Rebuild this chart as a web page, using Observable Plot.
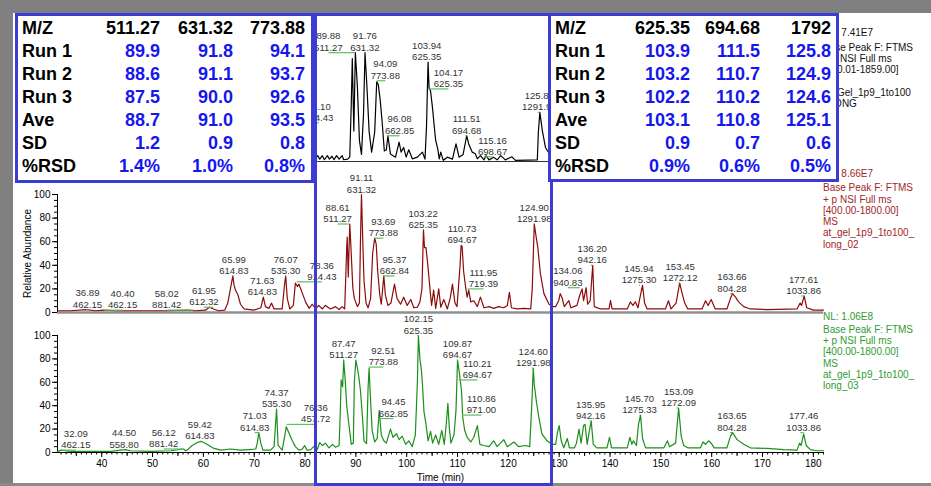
<!DOCTYPE html>
<html><head><meta charset="utf-8">
<script src="https://cdn.jsdelivr.net/npm/d3@7"></script>
<script src="https://cdn.jsdelivr.net/npm/@observablehq/plot@0.6"></script>
<style>
html,body{margin:0;padding:0;background:#fff;}
#wrap{position:relative;width:931px;height:486px;overflow:hidden;background:#fff;font-family:Arial,"Liberation Sans",sans-serif;}
.legend{position:absolute;left:823px;font-size:10px;line-height:11.3px;white-space:nowrap;}
.tbl{position:absolute;box-sizing:border-box;border:3px solid #3c3cd2;background:#fff;display:grid;font-weight:bold;font-size:18px;line-height:23px;padding-top:0.5px;padding-left:4px;}
.tbl .lab{color:#000;}
.tbl .h{color:#000;text-align:right;}
.tbl .v{color:#1616ee;text-align:right;}
</style></head>
<body><div id="wrap"></div>
<script>
// ---------------- data ----------------
const xDomain = [31.3, 182];

// top run (black) – only the part visible between the two tables
const blackTrace = [[82.1,3],[82.5,5],[82.9,2],[83.4,5],[83.8,1.5],[84.4,5],[84.8,2],[85.3,4.5],[85.7,1.5],[86.2,5],[86.7,2],[87.3,5],[87.6,1.5],[88.4,2],[88.8,4],[89.1,50],[89.3,88],[89.6,26],[89.9,93],[90.3,64],[90.7,18],[91.1,6],[91.5,40],[91.8,93],[92.2,62],[92.6,26],[93.1,8],[93.7,25],[94.1,68],[94.4,66],[94.8,52],[95.2,32],[95.6,9],[96.0,10],[96.3,22],[96.8,6.5],[97.8,3.7],[98.5,16.5],[98.9,8],[99.4,12],[99.9,3.7],[100.4,10],[101.1,2.3],[102.1,3.7],[103.1,8],[103.6,2],[103.9,30],[104.2,85],[104.4,63],[104.7,60],[105.1,45],[105.4,31],[105.7,18],[106.1,11],[106.4,2.3],[106.7,8],[107.2,1],[108.0,3.7],[109.0,2],[109.7,15],[110.3,3.7],[111.1,6],[111.8,22],[112.2,15],[112.9,8],[113.5,6.6],[113.9,2.3],[114.5,5],[115.2,1.4],[115.6,5],[116.2,1.4],[117.1,3.7],[117.8,1.4],[118.5,5],[119.4,1.4],[120.7,4],[121.4,0.9],[123.7,1.2],[125.7,1.4],[125.9,25],[126.2,42],[126.7,26],[127.3,12],[128.0,7],[128.6,5]];

// middle run (red)
const redTrace = [[31.3,1.5],[33.9,1.5],[36.9,2.5],[38.8,1.5],[40.4,2],[42.8,1.5],[47.7,1.5],[52.6,1.5],[56.9,2],[58.5,1.5],[60.4,2],[61.2,4.5],[62.0,3],[63.0,1.5],[64.2,2],[64.8,8],[65.4,22],[65.8,31],[66.0,24],[66.3,19],[66.8,15],[67.3,7],[68.0,3],[69.9,2],[71.3,4],[71.8,13],[72.2,5],[72.9,3.5],[73.4,8],[73.9,3],[75.5,3],[76.0,25],[76.2,31],[76.5,12],[77.0,3],[77.7,6],[78.1,25],[78.5,22],[78.8,24],[79.5,16],[80.1,9],[80.8,3.5],[81.4,7],[82.1,3],[82.7,6],[83.4,3],[84.0,6],[85.0,3],[86.0,5],[86.7,2.5],[87.3,5],[87.8,3],[88.2,55],[88.3,64],[88.5,30],[88.8,75],[89.0,58],[89.4,21],[89.7,12],[90.3,5],[90.7,8],[90.9,60],[91.1,100],[91.4,55],[91.6,27],[92.0,8],[92.4,4],[92.9,12],[93.3,50],[93.7,63],[94.0,58],[94.3,35],[94.7,15],[95.0,7],[95.5,31],[95.8,15],[96.3,6],[96.9,8],[97.6,24],[98.1,12],[98.8,7],[99.4,13],[100.1,6],[100.8,11],[101.4,4],[102.1,4.5],[102.6,9],[103.0,20],[103.3,70],[103.5,55],[103.8,55],[104.2,38],[104.6,19],[104.9,6],[105.3,19],[105.7,3.5],[106.3,20],[106.7,4.5],[107.3,11],[108.0,3],[108.6,13],[109.0,24],[109.5,8],[109.9,5],[110.5,40],[110.7,57],[110.9,56],[111.2,35],[111.6,21],[111.9,13],[112.2,19],[112.6,9],[113.2,10],[113.9,5],[114.5,13],[115.2,4],[116.2,5],[117.1,3.5],[118.1,5],[119.1,4],[119.8,6],[120.2,17],[120.6,4],[121.7,3],[123.0,3.5],[124.4,3],[124.7,20],[125.1,75],[125.4,66],[125.8,55],[126.3,33],[127.0,16],[128.0,7],[128.9,5],[129.3,5],[129.9,10],[130.2,16],[130.6,12],[131.0,5],[131.9,10],[132.3,4],[133.5,6],[134.0,14],[134.5,20],[134.8,10],[135.3,21],[135.6,7],[136.1,10],[136.6,40],[136.9,5],[138.1,3],[139.8,3],[140.1,10],[140.4,3],[143.4,3],[144.0,9],[144.5,6],[145.0,9],[145.5,4],[146.0,15],[146.4,23],[146.8,8],[147.3,3],[150.9,3],[151.5,10],[152.0,3],[153.0,8],[153.7,25],[154.2,16],[154.7,8],[155.3,3],[158.1,3],[158.8,10],[159.3,6],[159.9,11],[160.7,3],[163.0,3],[163.7,12],[164.1,16],[164.7,13],[165.3,9],[166.3,5],[167.6,3],[170.9,2.5],[176.8,3],[177.4,8],[177.7,6],[178.2,14],[178.7,4],[180.0,2],[182.0,2]];

// bottom run (green)
const greenTrace = [[31.3,1],[32.1,2],[33.9,1],[37.8,1],[41.8,1],[43.7,2],[44.7,2.5],[45.7,1.5],[49.6,1],[53.6,1.5],[56.1,3],[56.5,1.5],[56.8,2],[57.8,6],[58.8,8.5],[59.5,9.5],[60.1,8.5],[61.1,6],[62.1,3.5],[63.4,2],[65.4,3],[67.3,2],[69.0,2.5],[70.3,3],[70.6,8],[70.9,17],[71.3,8],[71.7,2],[73.2,2],[73.9,5],[74.4,37],[74.7,6],[75.5,2],[76.0,14],[76.3,22],[76.8,17],[77.5,10],[78.1,5],[78.8,2],[79.5,3],[79.9,6],[80.4,2],[81.1,2.5],[81.7,5],[82.4,2.5],[82.9,8.5],[83.4,6],[84.0,8],[84.7,4],[85.4,7],[86.0,4.5],[86.7,6],[86.9,30],[87.1,62],[87.4,56],[87.6,79],[87.9,62],[88.2,40],[88.6,25],[89.1,7],[89.5,8],[89.7,60],[90.0,79],[90.3,72],[90.6,64],[90.9,53],[91.3,30],[91.6,10],[92.1,7.5],[92.4,55],[92.6,72],[92.9,44],[93.2,19],[93.7,9],[94.2,12],[94.6,36],[95.0,15],[95.5,10],[96.0,8],[96.8,20],[97.3,13],[98.0,16],[98.5,11],[99.1,14],[99.8,7],[100.4,10],[101.1,5],[101.7,15],[102.1,60],[102.3,100],[102.6,80],[102.9,70],[103.1,58],[103.4,35],[103.8,24],[104.2,10],[104.7,18],[105.1,8],[105.7,15],[106.3,7],[106.9,19],[107.4,7],[107.8,25],[108.1,42],[108.4,20],[108.7,8],[109.3,15],[109.7,36],[110.0,79],[110.3,70],[110.5,63],[110.8,52],[111.0,31],[111.4,19],[111.9,13],[112.6,9],[113.2,13],[113.9,23],[114.4,7],[115.2,6],[116.2,5],[117.1,10],[117.8,5],[119.1,11],[119.8,5],[121.1,9],[122.0,5],[123.4,6],[124.2,5],[124.6,40],[124.9,72],[125.1,58],[125.5,44],[126.0,30],[126.6,16],[127.6,10],[128.6,7],[129.3,7],[129.7,18],[130.0,23],[130.4,10],[130.9,4],[131.6,12],[132.0,4],[133.0,4],[133.4,8],[133.9,20],[134.3,8],[134.8,23],[135.1,24],[135.5,7],[136.0,20],[136.3,27],[136.7,7],[137.4,4],[139.4,4],[139.9,13],[140.3,4],[143.4,4],[143.9,13],[144.3,7],[144.6,10],[145.2,6],[145.6,24],[146.0,32],[146.4,12],[147.0,4],[150.6,4],[151.3,10],[151.7,5],[152.9,8],[153.5,38],[154.0,14],[154.5,6],[155.3,4],[157.8,4],[158.3,9],[158.8,7],[159.4,10],[159.9,8],[160.5,4],[163.0,4],[163.7,14],[164.1,17],[165.0,11],[166.3,7],[167.6,4],[170.9,3.5],[174.2,2.5],[176.8,2],[177.3,8],[177.6,6],[178.1,16],[178.6,6],[179.4,2.5],[180.7,1.5],[182.0,1.5]];

// peak annotations: [retention time, m/z, annotated level (%), time where the label is centred]
const blackPeaks = [["81.10","914.43",33,82.7],["89.88","511.27",93,84.6],["91.76","631.32",93,91.76],["94.09","773.88",69,95.8],["96.08","662.85",22,98.6],["103.94","625.35",85,103.94],["104.17","625.35",62,108.2],["111.51","694.68",22,111.8],["115.16","698.67",4,116.9],["125.81","1291.98",42,126.1]];
const redPeaks = [["36.89","462.15",2.5,37.2],["40.40","462.15",2,44.1],["58.02","881.42",2,52.8],["61.95","612.32",4.5,60.1],["65.99","614.83",31,65.99],["71.63","614.83",13,71.6],["76.07","535.30",31,76.2],["78.36","914.43",26,83.3],["88.61","511.27",75,86.4],["91.11","631.32",100,91.11],["93.69","773.88",63,95.4],["95.37","662.84",31,97.6],["103.22","625.35",70,103.22],["110.73","694.67",57,110.9],["111.95","719.39",20,115.1],["124.90","1291.98",75,125.1],["134.06","940.83",21,131.7],["136.20","942.16",40,136.5],["145.94","1275.30",23,145.7],["153.45","1272.12",25,153.8],["163.66","804.28",16,164.0],["177.61","1033.86",14,178.1]];
const greenPeaks = [["32.09","462.15",2,34.9],["44.50","558.80",2.5,44.4],["56.12","881.42",3,52.2],["59.42","614.83",9.5,59.3],["71.03","614.83",17,70.1],["74.37","535.30",37,74.4],["76.36","457.72",24,82.1],["87.47","511.27",79,87.6],["92.51","773.88",73,95.4],["94.45","662.85",29,97.4],["102.15","625.35",100,102.3],["109.87","694.67",79,110.0],["110.21","694.67",62,113.9],["110.86","971.00",32,114.7],["124.60","1291.98",72,124.9],["135.95","942.16",27,136.2],["145.70","1275.33",32,145.8],["153.09","1272.09",38,153.5],["163.65","804.28",17,164.0],["177.46","1033.86",17,178.1]];

const yTicks = [0, 20, 40, 60, 80, 100];
const xTicks = [40, 50, 60, 70, 80, 90, 100, 110, 120, 130, 140, 150, 160, 170, 180];

const legendTop = ["NL: 7.41E7", "Base Peak F: FTMS", "+ p NSI Full ms", "[300.01-1859.00]", "MS", "at_Gel_1p9_1to100", "_LONG"];
const legendMid = ["NL: 8.66E7", "Base Peak F: FTMS", "+ p NSI Full ms", "[400.00-1800.00]", "MS", "at_gel_1p9_1to100_", "long_02"];
const legendBot = ["NL: 1.06E8", "Base Peak F: FTMS", "+ p NSI Full ms", "[400.00-1800.00]", "MS", "at_gel_1p9_1to100_", "long_03"];

// retention-time table
const rowLabels = ["M/Z", "Run 1", "Run 2", "Run 3", "Ave", "SD", "%RSD"];
const mzHeader = ["511.27", "631.32", "773.88", "625.35", "694.68", "1792"];
const run1 = [89.9, 91.8, 94.1, 103.9, 111.5, 125.8];
const run2 = [88.6, 91.1, 93.7, 103.2, 110.7, 124.9];
const run3 = [87.5, 90.0, 92.6, 102.2, 110.2, 124.6];
const ave  = [88.7, 91.0, 93.5, 103.1, 110.8, 125.1];
const sd   = [1.2, 0.9, 0.8, 0.9, 0.7, 0.6];
const rsd  = [1.4, 1.0, 0.8, 0.9, 0.6, 0.5];

// ---------------- drawing ----------------
const wrap = document.getElementById("wrap");
const hasAxisMarks = typeof Plot.axisX === "function";
const FONT = "Arial, 'Liberation Sans', sans-serif";

function addBox(css) {
  const d = document.createElement("div");
  d.style.cssText = "position:absolute;" + css;
  wrap.appendChild(d);
  return d;
}

function panel(o) {
  const pts = o.trace.map(([t, v]) => ({t, v}));
  const pk = o.peaks.map(([rt, mz, h, lt]) => ({rt: +rt, h, lt, label: rt + "\n" + mz}));
  const marks = [];
  marks.push(Plot.ruleY([0], {stroke: o.baseColor, strokeWidth: o.baseWidth}));
  if (o.yAxis) {
    marks.push(Plot.ruleX([xDomain[0]], {y1: 0, y2: 100, stroke: "#000"}));
    if (hasAxisMarks) {
      marks.push(Plot.axisY(yTicks, {tickSize: 5, tickPadding: 2, label: o.yLabel || null, labelAnchor: "center", labelOffset: 34, labelArrow: false}));
      marks.push(Plot.axisY(d3.range(0, 101, 5), {tickSize: 3, tickFormat: () => "", label: null}));
    }
  }
  if (o.xAxis && hasAxisMarks) {
    marks.push(Plot.axisX(xTicks, {tickSize: 5, tickPadding: 2, label: "Time (min)", labelAnchor: "center", labelOffset: 28, labelArrow: false}));
    marks.push(Plot.axisX(d3.range(35, 181, 10), {tickSize: 4, tickFormat: () => "", label: null}));
    marks.push(Plot.axisX(d3.range(32, 183, 1), {tickSize: 2.5, tickFormat: () => "", label: null}));
  }
  marks.push(Plot.line(pts, {x: "t", y: "v", stroke: o.color, strokeWidth: 1.2}));
  marks.push(Plot.link(pk, {x1: "rt", x2: "lt", y1: "h", y2: "h", stroke: "#5cbf5c", strokeWidth: 1.2}));
  marks.push(Plot.text(pk, {x: "lt", y: "h", text: "label", lineAnchor: "bottom", dy: -2, fontSize: 9.6, fill: "#333", lineHeight: 1.18}));
  const xOpt = {domain: xDomain, label: null, axis: null};
  const yOpt = {domain: [0, 100], label: null, axis: null};
  if (!hasAxisMarks) {
    if (o.yAxis) { yOpt.axis = "left"; yOpt.ticks = yTicks; yOpt.tickSize = 5; yOpt.label = o.yLabel || null; yOpt.labelAnchor = "center"; }
    if (o.xAxis) { xOpt.axis = "bottom"; xOpt.ticks = xTicks; xOpt.tickSize = 5; xOpt.label = "Time (min)"; xOpt.labelAnchor = "center"; }
  }
  const svg = Plot.plot({
    width: 931, height: o.height,
    marginLeft: 57, marginRight: 108, marginTop: o.marginTop, marginBottom: o.marginBottom,
    x: xOpt, y: yOpt,
    style: {background: "transparent", overflow: "visible", fontFamily: FONT, fontSize: "10px", color: "#000"},
    marks
  });
  const holder = addBox(`left:0;top:${o.top}px;`);
  holder.appendChild(svg);
}

// top panel: its axis lies under the left table in the original, so only the trace is drawn
panel({trace: blackTrace, peaks: blackPeaks, color: "#000", baseColor: "#333", baseWidth: 1.2, top: 14, height: 160, marginTop: 30, marginBottom: 13});
panel({trace: redTrace, peaks: redPeaks, color: "#8c0b0b", baseColor: "#8f8f8f", baseWidth: 2.5, top: 155, height: 165, marginTop: 39, marginBottom: 8, yAxis: true, yLabel: "Relative Abundance"});
panel({trace: greenTrace, peaks: greenPeaks, color: "#1b8f1b", baseColor: "#000", baseWidth: 1, top: 300, height: 186, marginTop: 35, marginBottom: 34, yAxis: true, xAxis: true});

// instrument legends (the top one is partly covered by the right table, as in the original)
function legend(lines, top, color, gap) {
  const d = addBox(`left:823px;top:${top}px;`);
  d.className = "legend";
  d.style.color = color;
  lines.forEach((s, i) => {
    const l = document.createElement("div");
    l.textContent = s;
    if (i === 0) l.style.marginBottom = gap + "px";
    d.appendChild(l);
  });
}
legend(legendTop, 27, "#111", 3.5);
legend(legendMid, 168, "#a32626", 3);
legend(legendBot, 311, "#2f9d2f", 1.5);

// gray frame
addBox("left:0;top:0;width:931px;height:13px;background:#808080;");
addBox("left:0;top:0;width:13px;height:486px;background:#808080;");
addBox("left:0;top:483px;width:931px;height:3px;background:#8a8a8a;");

// blue frame around the middle time window
addBox("left:314px;top:13px;width:239px;height:473px;box-sizing:border-box;border:3px solid #3c3cd2;");

// tables
function table(idx, left, width, height, cols) {
  const d = addBox(`left:${left}px;top:13px;width:${width}px;height:${height}px;`);
  d.className = "tbl";
  d.style.gridTemplateColumns = cols.map(c => c + "px").join(" ");
  d.style.gridAutoRows = "23px";
  const rows = [
    [mzHeader, v => v, "h"],
    [run1, v => v.toFixed(1), "v"],
    [run2, v => v.toFixed(1), "v"],
    [run3, v => v.toFixed(1), "v"],
    [ave, v => v.toFixed(1), "v"],
    [sd, v => v.toFixed(1), "v"],
    [rsd, v => v.toFixed(1) + "%", "v"]
  ];
  rows.forEach(([arr, fmt, cls], r) => {
    const lab = document.createElement("div");
    lab.className = "lab"; lab.textContent = rowLabels[r];
    d.appendChild(lab);
    idx.forEach(i => {
      const c = document.createElement("div");
      c.className = cls; c.textContent = fmt(arr[i]);
      d.appendChild(c);
    });
  });
}
table([0, 1, 2], 15, 299, 170, [68, 70, 73, 72]);
table([3, 4, 5], 548, 291, 169, [65, 70, 70, 71]);
</script>
</body></html>
